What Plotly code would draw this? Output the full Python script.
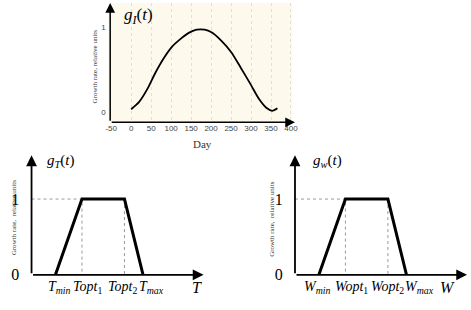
import plotly.graph_objects as go

# ---- data ----
days = [0, 20, 41, 61, 82, 102, 123, 143, 164, 184, 201, 226, 250, 275, 299, 320, 340, 353, 366]
g_i = [0.04, 0.125, 0.28, 0.47, 0.64, 0.77, 0.86, 0.93, 0.97, 0.97, 0.94, 0.84, 0.71, 0.52, 0.33, 0.16, 0.05, 0.02, 0.05]
day_ticks = [-50, 0, 50, 100, 150, 200, 250, 300, 350, 400]
day_tick_text = ["-50", "0", "50", "100", "150", "200", "250", "300", "350", "400"]

t_points = [9, 19, 35, 42]          # Tmin, Topt1, Topt2, Tmax
t_values = [0, 1, 1, 0]
t_labels = ["<i>T<sub>min</sub></i>", "<i>Topt</i><sub>1</sub>", "<i>Topt</i><sub>2</sub>", "<i>T<sub>max</sub></i>"]

w_points = [9, 19, 35, 42]          # Wmin, Wopt1, Wopt2, Wmax
w_values = [0, 1, 1, 0]
w_labels = ["<i>W<sub>min</sub></i>", "<i>Wopt</i><sub>1</sub>", "<i>Wopt</i><sub>2</sub>", "<i>W<sub>max</sub></i>"]

W, H = 471, 310
def px(x): return x / W
def py(y): return 1 - y / H

SERIF = "Liberation Serif, Times New Roman, DejaVu Serif, serif"
SANS = "Liberation Sans, Arial, sans-serif"

fig = go.Figure()

# top curve
fig.add_trace(go.Scatter(x=days, y=g_i, mode="lines", line=dict(color="black", width=1.8, shape="spline", smoothing=0.8),
                         xaxis="x", yaxis="y", showlegend=False, hoverinfo="skip"))

def trapezoid(points, values, xa, ya):
    # dotted guides
    fig.add_trace(go.Scatter(x=[0, points[1], points[1], None, points[2], points[2]],
                             y=[values[1], values[1], 0, None, values[2], 0],
                             mode="lines", line=dict(color="#999", width=1, dash="dot"),
                             xaxis=xa, yaxis=ya, showlegend=False, hoverinfo="skip"))
    fig.add_trace(go.Scatter(x=points, y=values, mode="lines", line=dict(color="black", width=3),
                             xaxis=xa, yaxis=ya, showlegend=False, hoverinfo="skip"))

trapezoid(t_points, t_values, "x2", "y2")
trapezoid(w_points, w_values, "x3", "y3")

top_xr = [-52.5, 410]
top_yr = [-0.114, 1.284]
bot_xr = [0, 64.8]
bot_yr = [0, 1.577]

fig.update_layout(
    width=W, height=H, margin=dict(l=0, r=0, t=0, b=0),
    paper_bgcolor="white", plot_bgcolor="white",
    xaxis=dict(domain=[px(107), px(295)], range=top_xr, tickvals=day_ticks, ticktext=day_tick_text, showgrid=True,
               gridcolor="#e2e0d6", griddash="dot", gridwidth=1, zeroline=False, showline=False,
               tickfont=dict(family=SANS, size=8, color="#444"), ticks="", anchor="y"),
    yaxis=dict(domain=[py(126), py(3)], range=top_yr, tickvals=[0, 1], showgrid=False, zeroline=False,
               showline=False, tickfont=dict(family=SANS, size=8, color="#444"), ticks="outside",
               ticklen=2, tickcolor="rgba(0,0,0,0)", anchor="x"),
    xaxis2=dict(domain=[px(27), px(202)], range=bot_xr, showticklabels=False, showgrid=False,
                zeroline=False, showline=False, anchor="y2"),
    yaxis2=dict(domain=[py(283), py(160)], range=bot_yr, tickvals=[0, 1], showgrid=False, zeroline=False,
                showline=False, tickfont=dict(family=SERIF, size=16, color="black"), ticks="outside",
                ticklen=8, tickcolor="rgba(0,0,0,0)", anchor="x2"),
    xaxis3=dict(domain=[px(295), px(470)], range=bot_xr, showticklabels=False, showgrid=False,
                zeroline=False, showline=False, anchor="y3"),
    yaxis3=dict(domain=[py(283), py(160)], range=bot_yr, tickvals=[0, 1], showgrid=False, zeroline=False,
                showline=False, tickfont=dict(family=SERIF, size=16, color="black"), ticks="outside",
                ticklen=8, tickcolor="rgba(0,0,0,0)", anchor="x3"),
)

# cream background of the top panel
fig.add_shape(type="rect", xref="x domain", yref="y domain", x0=-0.01, x1=0.985, y0=0, y1=1,
              fillcolor="#fdf9ec", line=dict(width=0), layer="below")

annotations = []
def arrow(xa, ya, x0, y0, x1, y1, width, size):
    annotations.append(dict(xref=xa, yref=ya, axref=xa, ayref=ya, x=x1, y=y1, ax=x0, ay=y0,
                            showarrow=True, arrowhead=2, arrowsize=size, arrowwidth=width,
                            arrowcolor="black", text=""))

# axes with arrows
arrow("x", "y", top_xr[0], top_yr[0], top_xr[1], top_yr[0], 1.5, 1.3)
arrow("x", "y", top_xr[0], top_yr[0], top_xr[0], top_yr[1], 1.5, 1.3)
for xa, ya in (("x2", "y2"), ("x3", "y3")):
    arrow(xa, ya, bot_xr[0], bot_yr[0], bot_xr[1], bot_yr[0], 1.8, 1.2)
    arrow(xa, ya, bot_xr[0], bot_yr[0], bot_xr[0], bot_yr[1], 1.8, 1.2)

# bottom x labels
label_sets = (("x2", "y2", t_points, t_labels, "T", [4, 6, -2, 8], 0),
              ("x3", "y3", w_points, w_labels, "W", [-2, 6, 0, 13], -10))
for xa, ya, pts, labs, var, shifts, endshift in label_sets:
    for p, lab, s in zip(pts, labs, shifts):
        annotations.append(dict(xref=xa, yref=ya, x=p, y=0, text=lab, showarrow=False, xanchor="center",
                                yanchor="top", xshift=s, yshift=-2, font=dict(family=SERIF, size=14, color="black")))
    annotations.append(dict(xref=xa, yref=ya, x=bot_xr[1], y=0, text="<i>%s</i>" % var, showarrow=False,
                            xanchor="right", yanchor="top", xshift=endshift, yshift=-2,
                            font=dict(family=SERIF, size=16, color="black")))

# panel titles
def note(x, y, text, size, family=SERIF, color="black", angle=0, xanchor="center"):
    annotations.append(dict(xref="paper", yref="paper", x=px(x), y=py(y), text=text, showarrow=False,
                            xanchor=xanchor, yanchor="middle", textangle=angle,
                            font=dict(family=family, size=size, color=color)))

note(119, 16, "<i>g<sub>I</sub></i>(<i>t</i>)", 17, xanchor="left")
note(41, 166, "<i>g<sub>T</sub></i>(<i>t</i>)", 15, xanchor="left")
note(311, 166, "<i>g<sub>w</sub></i>(<i>t</i>)", 15, xanchor="left")

# axis titles
note(92, 68, "Growth rate, relative units", 7, color="#333", angle=-90)
note(201, 148, "Day", 11, color="#333")
note(10, 224, "Growth rate,  relative units", 7, color="#333", angle=-90)
note(272, 225, "Growth rate,  relative units", 7, color="#333", angle=-90)

fig.update_layout(annotations=annotations)
fig.write_html("out.html")
